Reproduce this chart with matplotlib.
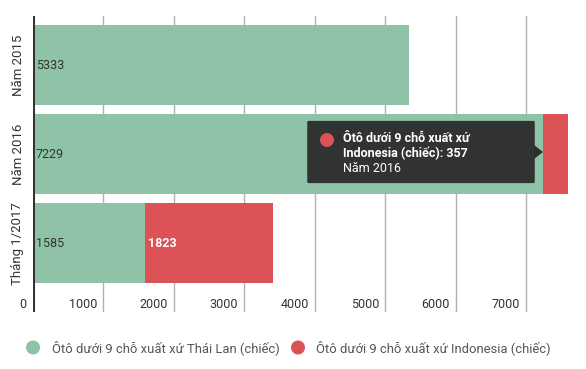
import matplotlib
matplotlib.use("Agg")
import matplotlib.pyplot as plt
from matplotlib.patches import FancyBboxPatch, Polygon, Ellipse
from matplotlib.transforms import blended_transform_factory

plt.rcParams['font.family'] = ['Roboto', 'DejaVu Sans']

categories = ["Năm 2015", "Năm 2016", "Tháng 1/2017"]
thai = [5333, 7229, 1585]
indo = [0, 357, 1823]
series_names = ["Ôtô dưới 9 chỗ xuất xứ Thái Lan (chiếc)",
                "Ôtô dưới 9 chỗ xuất xứ Indonesia (chiếc)"]
xticks = [0, 1000, 2000, 3000, 4000, 5000, 6000, 7000]

GREEN = "#8ec3a7"
RED = "#dc5256"
DARK = "#333333"

W, H = 586, 369
fig = plt.figure(figsize=(W / 100, H / 100), dpi=100)
# axes: left at x=33, top at y=16, bottom at y=312
ax = fig.add_axes([33 / W, (H - 312) / H, (W - 33) / W, (312 - 16) / H])
ax.set_xlim(0, 7844)
ax.set_ylim(2.77, -0.55)
for s in ax.spines.values():
    s.set_visible(False)
ax.set_xticks([])
ax.set_yticks([])

# gridlines
for t in xticks[1:]:
    ax.axvline(t, color="#b0b0b0", lw=1, zorder=0)
ax.axvline(0, color=DARK, lw=2.2, zorder=5)

ypos = list(range(len(categories)))
ax.barh(ypos, thai, height=0.9, color=GREEN, zorder=2)
ax.barh(ypos, indo, left=thai, height=0.9, color=RED, zorder=2)

# value labels
for y, v in zip(ypos, thai):
    ax.text(40, y, str(v), ha="left", va="center", fontsize=9, color=DARK, zorder=6)
ax.text(thai[2] + 40, 2, str(indo[2]), ha="left", va="center", fontsize=9,
        color="white", fontweight="bold", zorder=6)

# x tick labels (right aligned, left of each gridline)
trans = blended_transform_factory(ax.transData, ax.transAxes)
for t in xticks:
    ax.text(t - 90, (312 - 305) / (312 - 16), str(t), transform=trans,
            ha="right", va="center", fontsize=9, color=DARK)

# category labels
for y, c in zip(ypos, categories):
    fy_pix = [65, 154, 243.5][y]
    fig.text(18 / W, 1 - fy_pix / H, c, rotation=90, ha="center", va="center",
             fontsize=9.5, color=DARK)

# tooltip (figure pixel coords)
ft = fig.transFigure
def P(x, y):
    return (x / W, 1 - y / H)

def dot(cx, cy, r, col, z=11):
    fig.patches.append(Ellipse(P(cx, cy), 2 * r / W, 2 * r / H, transform=ft,
                               facecolor=col, edgecolor="none", zorder=z))

box = FancyBboxPatch(P(309, 182), (533 - 309) / W, (182 - 122) / H,
                     boxstyle="round,pad=0.003", transform=ft,
                     facecolor="#2e2e2e", edgecolor="none", zorder=10,
                     alpha=0.97)
fig.patches.append(box)
arrow = Polygon([P(534, 145), P(543, 152), P(534, 159)], closed=True,
                transform=ft, facecolor="#2e2e2e", edgecolor="none", zorder=10)
fig.patches.append(arrow)
dot(327, 140, 7, RED)
fig.text(343 / W, 1 - 138 / H, "Ôtô dưới 9 chỗ xuất xứ", fontsize=9,
         fontweight="bold", color="white", va="center", ha="left", zorder=12)
fig.text(343 / W, 1 - 153 / H, f"Indonesia (chiếc): {indo[1]}", fontsize=9,
         fontweight="bold", color="white", va="center", ha="left", zorder=12)
fig.text(343 / W, 1 - 168 / H, categories[1], fontsize=9,
         color="white", va="center", ha="left", zorder=12)

# legend
ly = 347.5
for cx, tx, col, name in [(33, 52, GREEN, series_names[0]),
                          (298, 316, RED, series_names[1])]:
    dot(cx, ly, 7, col, z=3)
    fig.text(tx / W, 1 - ly / H, name, fontsize=9.4, color="#555555",
             va="center", ha="left")

fig.savefig("out.png", dpi=100)
